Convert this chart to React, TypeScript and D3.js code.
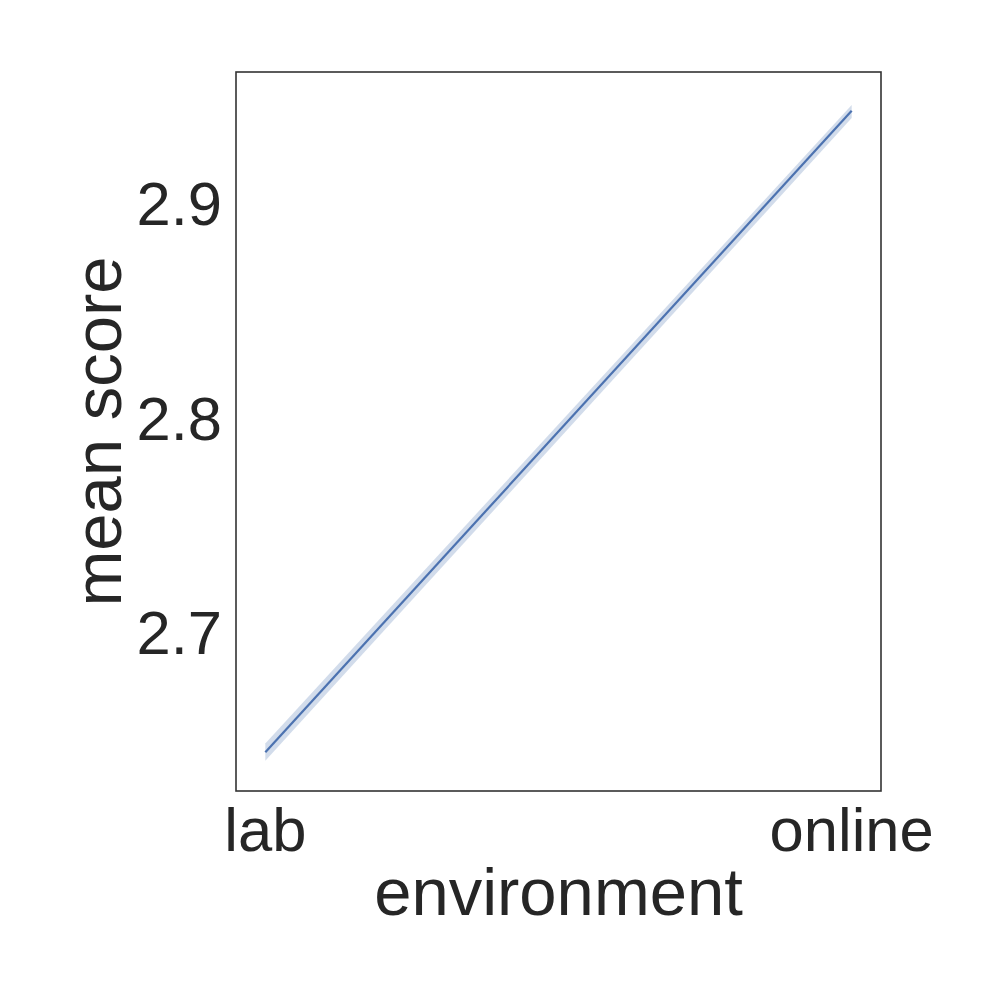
import React from "react";
import * as d3 from "d3";

const environments = ["lab", "online"];
const meanScores = [2.644, 2.943];
const ciLower = [2.640, 2.9396];
const ciUpper = [2.648, 2.9457];
const yTicks = [2.7, 2.8, 2.9];

export default function App() {
  const width = 1000;
  const height = 1000;
  const left = 236, right = 881, top = 72, bottom = 791;

  const x = d3.scaleLinear().domain([-0.05, 1.05]).range([left, right]);
  const y = d3.scaleLinear().domain([2.6259, 2.9611]).range([bottom, top]);

  const pts = environments.map((e, i) => ({ i, m: meanScores[i], lo: ciLower[i], hi: ciUpper[i] }));

  const line = d3.line<any>().x((d) => x(d.i)).y((d) => y(d.m));
  const area = d3.area<any>().x((d) => x(d.i)).y0((d) => y(d.lo)).y1((d) => y(d.hi));

  const font = "'Liberation Sans', Arial, sans-serif";
  const tickFs = 61.5;
  const labelFs = 67;
  const textColor = "#262626";

  return (
    <svg width={width} height={height} style={{ position: "absolute", left: 0, top: 0, background: "#fff" }}>
      <rect x={0} y={0} width={width} height={height} fill="#fff" />
      <path d={area(pts) || ""} fill="#4c72b0" fillOpacity={0.25} stroke="none" />
      <path d={line(pts) || ""} fill="none" stroke="#4c72b0" strokeWidth={2.2} />
      <rect x={left} y={top} width={right - left} height={bottom - top} fill="none" stroke="#333" strokeWidth={1.6} />
      {yTicks.map((t) => (
        <text key={t} x={left - 14} y={y(t)} dy="0.36em" textAnchor="end" fontFamily={font} fontSize={tickFs} fill={textColor}>
          {t.toFixed(1)}
        </text>
      ))}
      {environments.map((e, i) => (
        <text key={e} x={x(i)} y={851} textAnchor="middle" fontFamily={font} fontSize={tickFs} fill={textColor}>
          {e}
        </text>
      ))}
      <text x={(left + right) / 2} y={915} textAnchor="middle" fontFamily={font} fontSize={labelFs} fill={textColor}>
        environment
      </text>
      <text
        transform={`translate(121, ${(top + bottom) / 2}) rotate(-90)`}
        textAnchor="middle"
        fontFamily={font}
        fontSize={labelFs}
        fill={textColor}
      >
        mean score
      </text>
    </svg>
  );
}
